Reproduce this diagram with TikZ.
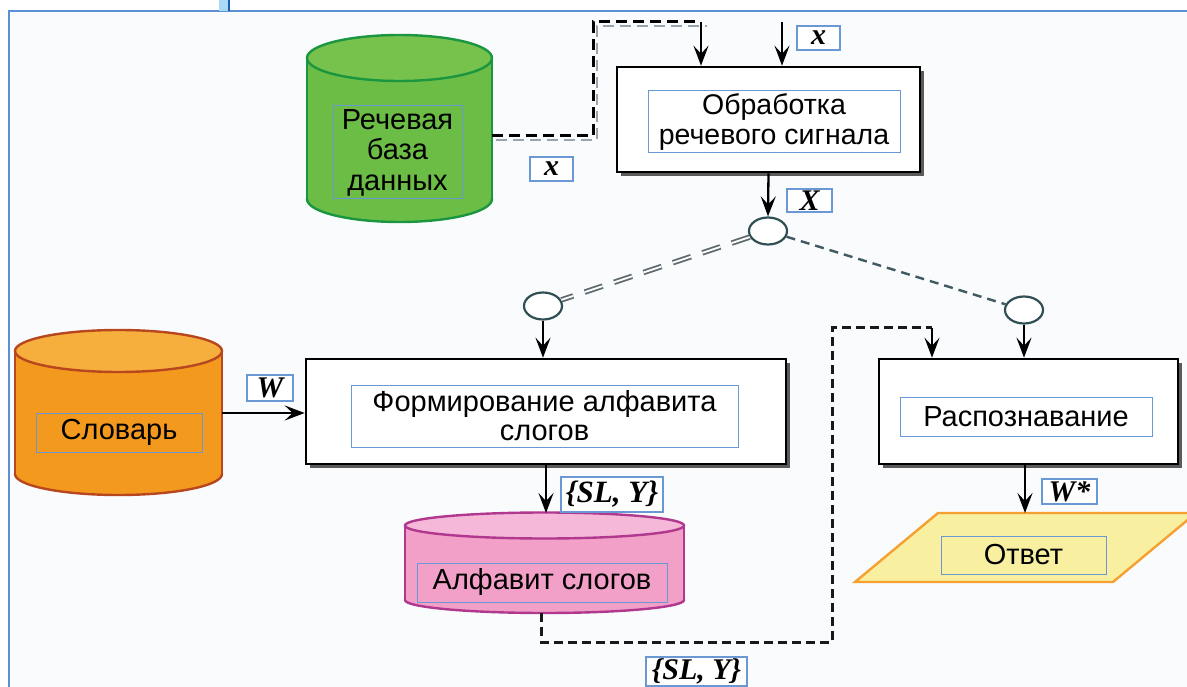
\documentclass[tikz,border=0pt]{standalone}
\usepackage{fontspec}
\setmainfont{Liberation Sans}
\newfontfamily\tms{Liberation Serif}
\usetikzlibrary{arrows.meta,shapes.geometric,shadows}
\definecolor{bgc}{HTML}{FAFBFD}
\definecolor{frameblue}{HTML}{6A98D4}
\definecolor{edgeblue}{HTML}{5B8FD6}
\definecolor{barlight}{HTML}{A9D9F7}
\definecolor{bardark}{HTML}{1C5DB0}
\definecolor{gbody}{HTML}{6CBD45}
\definecolor{gtop}{HTML}{76C24D}
\definecolor{gline}{HTML}{1A9640}
\definecolor{obody}{HTML}{F39A1E}
\definecolor{otop}{HTML}{F6AF3C}
\definecolor{oline}{HTML}{B8461E}
\definecolor{pbody}{HTML}{F2A0C8}
\definecolor{ptop}{HTML}{F5B8D8}
\definecolor{pline}{HTML}{B0388E}
\definecolor{yfill}{HTML}{F8F0A0}
\definecolor{yline}{HTML}{F5A030}
\definecolor{hubc}{HTML}{2F4F55}
\definecolor{dashc}{HTML}{3F5A60}
\definecolor{dblc}{HTML}{5E6A70}
\definecolor{shc}{HTML}{9AA4AE}
\newcommand\mycyl[8]{%
  \draw[#8, fill=#6, line width=2.4pt] (#1,#4) ellipse[x radius=#2pt, y radius=#5pt];
  \fill[#6] (#1-#2,#3) rectangle (#1+#2,#4);
  \draw[#8, line width=2.4pt] (#1-#2,#3) -- (#1-#2,#4) (#1+#2,#3) -- (#1+#2,#4);
  \draw[#8, fill=#7, line width=2.4pt] (#1,#3) ellipse[x radius=#2pt, y radius=#5pt];
}
\begin{document}
\begin{tikzpicture}[x=1pt,y=-1pt,
  tframe/.style={draw=frameblue, line width=1pt, inner sep=0pt, align=center,
    font=\fontsize{29}{31}\selectfont},
  lab/.style={draw=frameblue, line width=1.3pt, fill=white, inner sep=0pt,
    font=\tms\bfseries\itshape\fontsize{30}{30}\selectfont},
  pbox/.style={draw=black, line width=2.6pt, fill=white,
    drop shadow={shadow xshift=4pt, shadow yshift=-4pt, fill=black!75, opacity=.85}},
  hub/.style={ellipse, draw=hubc, line width=2.2pt, fill=white,
    minimum width=38pt, minimum height=27pt, inner sep=0pt},
  arr/.style={-{Stealth[length=20pt,width=15pt,inset=8pt]}, line width=2.3pt, draw=black},
  blkdash/.style={line width=3pt, draw=black, dash pattern=on 11pt off 6pt},
  shdash/.style={line width=2.4pt, draw=shc, dash pattern=on 11pt off 6pt},
  btmdash/.style={line width=3pt, draw=black!90, dash pattern=on 9pt off 5pt},
  thindash/.style={line width=2.4pt, draw=dashc, dash pattern=on 9pt off 6pt},
  dbldash/.style={draw=dblc, line width=1.8pt, double=white, double distance=1.8pt,
    dash pattern=on 19pt off 12pt}
]
\clip (0,0) rectangle (1187,687);
\useasboundingbox (0,0) rectangle (1187,687);
% background and frame
\fill[white] (0,0) rectangle (1187,687);
\fill[bgc] (9,11) rectangle (1187,687);
\draw[edgeblue, line width=1.5pt] (9,687) -- (9,11) -- (1187,11);
\fill[barlight] (219,0) rectangle (228,11);
\draw[bardark, line width=2.5pt] (229,0) -- (229,11);

% cylinders
\mycyl{399.5}{92.5}{58}{199}{23}{gbody}{gtop}{gline}
\mycyl{118.5}{103.5}{351}{474}{21}{obody}{otop}{oline}
\mycyl{544.5}{139.5}{525.5}{600}{13}{pbody}{ptop}{pline}

% answer parallelogram
\draw[yline, fill=yfill, line width=2.4pt] (938,513) -- (1196,513) -- (1113,582) -- (855,582) -- cycle;

% process boxes
\node[pbox, minimum width=303pt, minimum height=105pt] (proc) at (768.5,119.5) {};
\node[pbox, minimum width=480pt, minimum height=105pt] (form) at (546,411.5) {};
\node[pbox, minimum width=299pt, minimum height=105pt] (rec) at (1028.5,411.5) {};

% text frames
\node[tframe, minimum width=129pt, minimum height=93pt, font=\fontsize{29}{30.5}\selectfont] (dbt) at (397.5,152.5) {Речевая\\база\\данных};
\node[tframe, minimum width=252pt, minimum height=62pt, font=\fontsize{28.5}{30.5}\selectfont] (proct) at (774,122) {Обработка\\речевого сигнала};
\node[tframe, minimum width=166pt, minimum height=39pt] (dictt) at (119,432.5) {Словарь};
\node[tframe, minimum width=387pt, minimum height=62pt, font=\fontsize{29}{29}\selectfont] (formt) at (544.5,416) {Формирование алфавита\\слогов};
\node[tframe, minimum width=252pt, minimum height=39pt] (rect) at (1026,416.5) {Распознавание};
\node[tframe, minimum width=250pt, minimum height=39pt] (alpht) at (542,582.5) {Алфавит слогов};
\node[tframe, minimum width=165pt, minimum height=38pt] (anst) at (1023.5,555) {Ответ};

% hubs
\node[hub] (c1) at (768,231) {};
\node[hub] (c2) at (543,306) {};
\node[hub] (c3) at (1024,310) {};

% coordinates
\coordinate (dbE) at (492,136);
\coordinate (t1) at (701,22);
\coordinate (in2) at (782,22);
\coordinate (dictE) at (222,413);
\coordinate (pinkT) at (545,513);
\coordinate (pinkB) at (541,613);
\coordinate (r1) at (932,328);
\coordinate (ansT) at (1025,513);

% connectors
\draw[shdash] (496,140) -- (597,140) -- (597,26) -- (707,26);
\draw[blkdash] (dbE) -- (593,136) -- (593,22) -- (t1);
\draw[arr] (t1) -- (t1 |- proc.north);
\draw[arr] (in2) -- (in2 |- proc.north);
\draw[arr] (proc.south) -- (c1.north);
\draw[dbldash] (c1) -- (c2);
\draw[thindash] (c1) -- (c3);
\draw[arr] (c2.south) -- (c2.south |- form.north);
\draw[arr] (c3.south) -- (c3.south |- rec.north);
\draw[arr] (dictE) -- (dictE -| form.west);
\draw[arr] (form.south) -- (form.south |- pinkT);
\draw[btmdash] (pinkB) -- (541,642) -- (832,642) -- (832,328) -- (r1);
\draw[arr] (r1) -- (r1 |- rec.north);
\draw[arr] (ansT |- rec.south) -- (ansT);

% labels
\node[lab, minimum width=43pt, minimum height=24pt] (lx1) at (818.5,38) {x};
\node[lab, minimum width=43pt, minimum height=24pt] (lx2) at (551.5,169) {x};
\node[lab, minimum width=45pt, minimum height=23pt] (lX) at (809.5,200.5) {X};
\node[lab, minimum width=46pt, minimum height=26pt] (lW) at (270,388) {W};
\node[lab, minimum width=102pt, minimum height=35pt, font=\tms\bfseries\itshape\fontsize{31}{31}\selectfont] (lSL1) at (612,494.5) {\{SL, Y\}};
\node[lab, minimum width=101pt, minimum height=29pt, font=\tms\bfseries\itshape\fontsize{30}{30}\selectfont] (lSL2) at (696.5,671.5) {\{SL, Y\}};
\node[lab, minimum width=55pt, minimum height=25pt] (lWs) at (1069.5,491.5) {W*};
\end{tikzpicture}
\end{document}
